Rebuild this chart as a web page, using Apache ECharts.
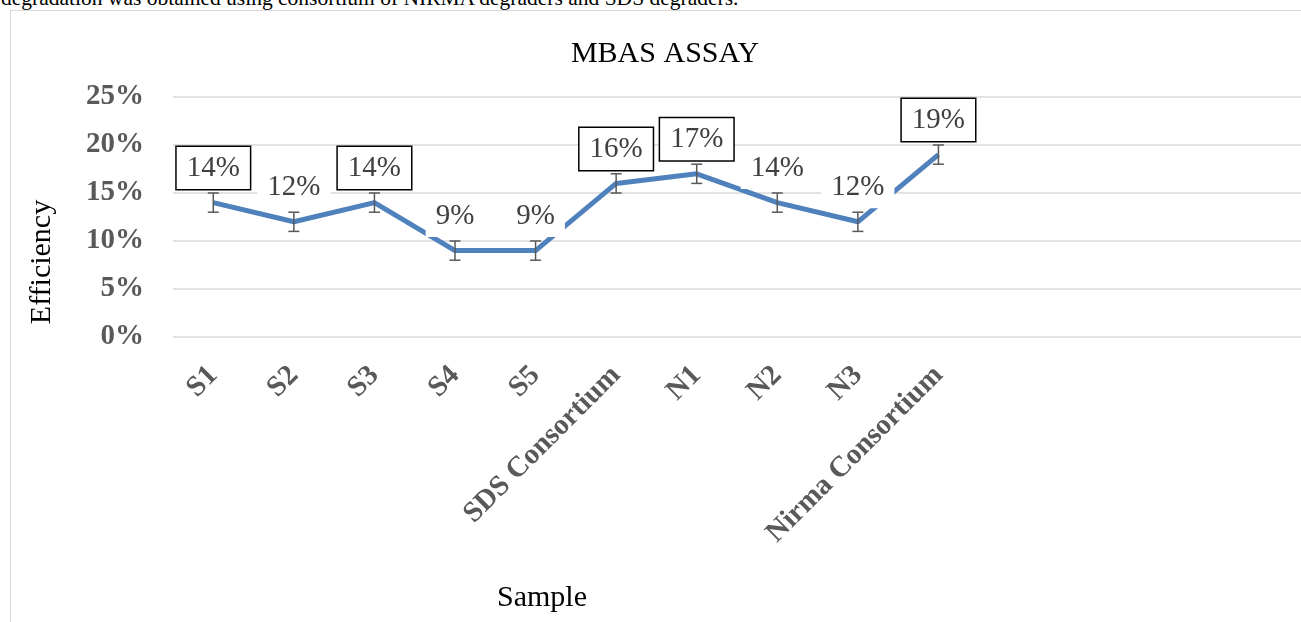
<!DOCTYPE html>
<html>
<head>
<meta charset="utf-8">
<script src="https://cdn.jsdelivr.net/npm/echarts@6/dist/echarts.min.js"></script>
<style>
  html, body { margin: 0; padding: 0; background: #fff; overflow: hidden; }
  #main { position: absolute; left: 0; top: 0; width: 1301px; height: 622px; }
  #frame { position: absolute; left: 10px; top: 10px; width: 1400px; height: 700px;
           border-left: 1.5px solid #d9d9d9; border-top: 1.5px solid #d9d9d9; pointer-events: none; }
  #caption { position: absolute; left: 1px; top: -14px; font: 21.5px "Liberation Serif", serif; color: #000; white-space: nowrap; }
</style>
</head>
<body>
<div id="caption">degradation was obtained using consortium of NIRMA degraders and SDS degraders.</div>
<div id="frame"></div>
<div id="main"></div>
<script>
// samples on the x axis (the plot area keeps room for a few empty slots, like the original sheet)
const samples = ["S1", "S2", "S3", "S4", "S5", "SDS Consortium", "N1", "N2", "N3", "Nirma Consortium"];
const emptySlots = ["", "", "", ""];
// efficiency (fraction) and its error
const efficiency = [0.14, 0.12, 0.14, 0.09, 0.09, 0.16, 0.17, 0.14, 0.12, 0.19];
const errors = [0.01, 0.01, 0.01, 0.01, 0.01, 0.01, 0.01, 0.01, 0.01, 0.01];
// which data labels sit in a framed box
const boxed = [true, false, true, false, false, true, true, false, false, true];
const yTicks = [0, 0.05, 0.1, 0.15, 0.2, 0.25];

const serif = "Liberation Serif";
const pct = (v) => Math.round(v * 100) + "%";

const chart = echarts.init(document.getElementById("main"));

const lineData = efficiency.map((v, i) => ({
  value: v,
  label: boxed[i]
    ? { borderColor: "#000", borderWidth: 1.5 }
    : { borderWidth: 0 },
}));

const errData = efficiency.map((v, i) => [i, v - errors[i], v + errors[i]]);

const option = {
  animation: false,
  title: {
    text: "MBAS ASSAY",
    left: 660,
    top: 34,
    textAlign: "center",
    textStyle: { fontFamily: serif, fontSize: 30, fontWeight: "normal", color: "#000" },
  },
  grid: { left: 173, right: -6, top: 97, bottom: 285, containLabel: false },
  xAxis: {
    type: "category",
    data: samples.concat(emptySlots),
    boundaryGap: true,
    axisLine: { show: false },
    axisTick: { show: false },
    axisLabel: {
      interval: 0,
      rotate: 45,
      margin: 34,
      fontFamily: serif,
      fontSize: 29,
      fontWeight: "bold",
      color: "#595959",
    },
    name: "Sample",
    nameLocation: "middle",
    nameGap: 246,
    nameTextStyle: { fontFamily: serif, fontSize: 30, color: "#000", padding: [0, 390, 0, 0] },
  },
  yAxis: {
    type: "value",
    min: yTicks[0],
    max: yTicks[yTicks.length - 1],
    interval: 0.05,
    axisLine: { show: false },
    axisTick: { show: false },
    splitLine: { lineStyle: { color: "#d9d9d9", width: 1.5 } },
    axisLabel: {
      margin: 29,
      formatter: pct,
      fontFamily: serif,
      fontSize: 29,
      fontWeight: "bold",
      color: "#595959",
    },
    name: "Efficiency",
    nameLocation: "middle",
    nameRotate: 90,
    nameGap: 116,
    nameTextStyle: { fontFamily: serif, fontSize: 30, color: "#000", padding: [0, 90, 0, 0] },
  },
  series: [
    {
      type: "custom",
      name: "error",
      z: 3,
      data: errData,
      renderItem: (params, api) => {
        const x = api.value(0);
        const lo = api.coord([x, api.value(1)]);
        const hi = api.coord([x, api.value(2)]);
        const w = 5.5;
        const style = { stroke: "#595959", lineWidth: 1.5 };
        return {
          type: "group",
          children: [
            { type: "line", shape: { x1: lo[0], y1: lo[1], x2: hi[0], y2: hi[1] }, style },
            { type: "line", shape: { x1: lo[0] - w, y1: lo[1], x2: lo[0] + w, y2: lo[1] }, style },
            { type: "line", shape: { x1: hi[0] - w, y1: hi[1], x2: hi[0] + w, y2: hi[1] }, style },
          ],
        };
      },
    },
    {
      type: "line",
      name: "Efficiency",
      z: 2,
      data: lineData,
      showSymbol: true,
      symbol: "circle",
      symbolSize: 1,
      itemStyle: { color: "#4f81bd" },
      lineStyle: { color: "#4f81bd", width: 5 },
      label: {
        show: true,
        position: "top",
        distance: 13,
        formatter: (p) => pct(p.value),
        fontFamily: serif,
        fontSize: 29,
        color: "#404040",
        backgroundColor: "#fff",
        padding: [7, 10, 6, 10],
      },
    },
  ],
};

chart.setOption(option);
</script>
</body>
</html>
